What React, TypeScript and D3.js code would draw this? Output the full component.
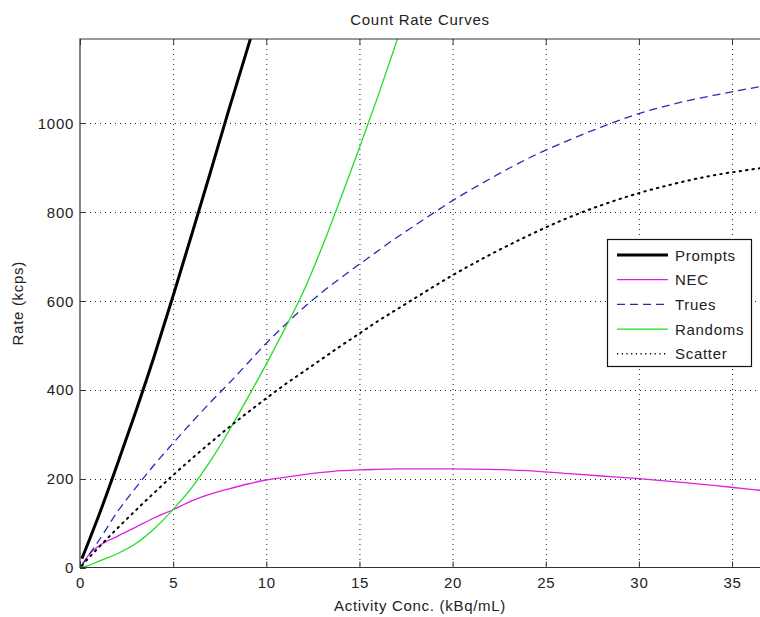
import React, { useRef, useEffect } from 'react';
import * as d3 from 'd3';

// Activity concentration (kBq/mL) sample points shared by all curves
const activity = [0.1, 0.5, 1, 2, 3, 4, 5, 6, 7, 8, 9, 10, 11, 12, 13, 14, 15, 16, 17, 18, 19, 20, 22, 24, 26, 28, 30, 32, 34, 36, 37];

// Rates in kcps (curves that leave the top of the plot stop early)
const prompts = [20, 62, 116, 232, 352, 478, 612, 750, 890, 1032, 1170, 1310];
const nec = [4, 30, 48, 70, 91, 112, 130, 150, 165, 177, 188, 197, 203, 209, 214, 218, 220, 221, 222, 222, 222, 222, 221, 218, 212, 206, 200, 193, 185, 176, 172];
const trues = [6, 30, 60, 125, 180, 232, 280, 327, 372, 415, 460, 505, 546, 585, 620, 652, 683, 713, 743, 771, 799, 826, 875, 920, 958, 992, 1022, 1045, 1063, 1079, 1087];
const randoms = [1, 5, 14, 31, 54, 88, 131, 180, 240, 308, 382, 458, 538, 622, 722, 832, 945, 1062, 1185, 1315];
const scatter = [4, 23, 45, 88, 129, 169, 208, 245, 281, 316, 349, 381, 412, 441, 470, 499, 527, 555, 581, 607, 633, 658, 704, 746, 784, 816, 843, 865, 883, 896, 902];

const xTicks = [0, 5, 10, 15, 20, 25, 30, 35];
const yTicks = [0, 200, 400, 600, 800, 1000];

const seriesNames = ['Prompts', 'NEC', 'Trues', 'Randoms', 'Scatter'];
const seriesValues = [prompts, nec, trues, randoms, scatter];

const styles: Record<string, { color: string; width: number; dash: string | null; legendDash: string | null }> = {
  Prompts: { color: '#000000', width: 3, dash: null, legendDash: null },
  NEC: { color: '#e020e0', width: 1.3, dash: null, legendDash: null },
  Trues: { color: '#2a2ab8', width: 1.3, dash: '8,5', legendDash: '8,5' },
  Randoms: { color: '#22dd22', width: 1.3, dash: null, legendDash: null },
  Scatter: { color: '#000000', width: 2, dash: '1.5,5', legendDash: '1.2,3.5' },
};

const FONT = '"Liberation Sans", Arial, Helvetica, sans-serif';

const App = () => {
  const ref = useRef<SVGSVGElement>(null);

  useEffect(() => {
    const svg = d3.select(ref.current);
    const width = 760;
    const height = 617;
    const margin = { top: 39, right: 0, bottom: 49.5, left: 80 };

    svg.selectAll('*').remove();

    const x = d3.scaleLinear().domain([0, 36.5]).range([margin.left, width - margin.right]);
    const y = d3.scaleLinear().domain([0, 1190]).range([height - margin.bottom, margin.top]);

    const [x0, x1] = x.range();
    const [yb, yt] = y.range();

    svg.append('rect').attr('width', width).attr('height', height).attr('fill', '#ffffff');

    svg.append('defs').append('clipPath').attr('id', 'plotClip')
      .append('rect')
      .attr('x', x0).attr('y', yt).attr('width', x1 - x0).attr('height', yb - yt);

    // grid (dotted)
    const grid = svg.append('g').attr('stroke', '#222').attr('stroke-width', 1).attr('stroke-dasharray', '1,4');
    xTicks.filter(t => t > 0).forEach(t => {
      grid.append('line').attr('x1', x(t) + 0.5).attr('x2', x(t) + 0.5).attr('y1', yt).attr('y2', yb);
    });
    yTicks.filter(t => t > 0).forEach(t => {
      grid.append('line').attr('x1', x0).attr('x2', x1).attr('y1', Math.round(y(t)) + 0.5).attr('y2', Math.round(y(t)) + 0.5);
    });

    // curves
    const plot = svg.append('g').attr('clip-path', 'url(#plotClip)');
    seriesNames.forEach((name, i) => {
      const vals = seriesValues[i];
      const pts = vals.map((v, j) => [activity[j], v] as [number, number]);
      const line = d3.line<[number, number]>()
        .x(d => x(d[0]))
        .y(d => y(d[1]))
        .curve(d3.curveMonotoneX);
      const st = styles[name];
      plot.append('path')
        .datum(pts)
        .attr('d', line)
        .attr('fill', 'none')
        .attr('stroke', st.color)
        .attr('stroke-width', st.width)
        .attr('stroke-dasharray', st.dash)
        .attr('stroke-linecap', name === 'Scatter' ? 'round' : 'butt');
    });

    // axes box (left, bottom, top)
    const axis = svg.append('g').attr('stroke', '#333').attr('stroke-width', 1.2).attr('fill', 'none');
    axis.append('path').attr('d', `M${x1},${yt}H${x0}V${yb}H${x1}`);

    // ticks point inward
    const ticks = svg.append('g').attr('stroke', '#333').attr('stroke-width', 1);
    xTicks.forEach(t => {
      ticks.append('line').attr('x1', x(t) + 0.5).attr('x2', x(t) + 0.5).attr('y1', yb).attr('y2', yb - 6);
      ticks.append('line').attr('x1', x(t) + 0.5).attr('x2', x(t) + 0.5).attr('y1', yt).attr('y2', yt + 6);
    });
    yTicks.forEach(t => {
      ticks.append('line').attr('x1', x0).attr('x2', x0 + 6).attr('y1', Math.round(y(t)) + 0.5).attr('y2', Math.round(y(t)) + 0.5);
    });

    const txt = (g: d3.Selection<any, unknown, null, undefined>) =>
      g.append('text')
        .attr('font-family', FONT)
        .attr('font-size', 15)
        .attr('letter-spacing', 0.7)
        .attr('fill', '#222');

    // tick labels
    xTicks.forEach(t => {
      txt(svg).attr('x', x(t) + 0.5).attr('y', yb + 20).attr('text-anchor', 'middle').text(t);
    });
    yTicks.forEach(t => {
      txt(svg).attr('x', x0 - 6).attr('y', y(t) + 5.5).attr('text-anchor', 'end').text(t);
    });

    // titles
    txt(svg).attr('x', (x0 + x1) / 2).attr('y', 25).attr('text-anchor', 'middle').text('Count Rate Curves');
    txt(svg).attr('x', (x0 + x1) / 2).attr('y', 611).attr('text-anchor', 'middle').text('Activity Conc. (kBq/mL)');
    txt(svg)
      .attr('transform', `translate(23,${(yt + yb) / 2}) rotate(-90)`)
      .attr('text-anchor', 'middle')
      .text('Rate (kcps)');

    // legend
    const legend = svg.append('g');
    legend.append('rect')
      .attr('x', 607.5).attr('y', 239.5).attr('width', 144).attr('height', 127)
      .attr('fill', '#ffffff').attr('stroke', '#111').attr('stroke-width', 1.2);

    seriesNames.forEach((name, i) => {
      const st = styles[name];
      const ly = 255 + i * 24.7;
      legend.append('line')
        .attr('x1', 617).attr('x2', 668).attr('y1', ly).attr('y2', ly)
        .attr('stroke', st.color)
        .attr('stroke-width', name === 'Scatter' ? 1.5 : st.width)
        .attr('stroke-dasharray', st.legendDash);
      txt(legend).attr('x', 675).attr('y', ly + 5.5).text(name);
    });
  }, []);

  return (
    <div style={{ position: 'absolute', left: 0, top: 0 }}>
      <svg ref={ref} width="760" height="617" style={{ display: 'block' }}></svg>
    </div>
  );
};

export default App;
